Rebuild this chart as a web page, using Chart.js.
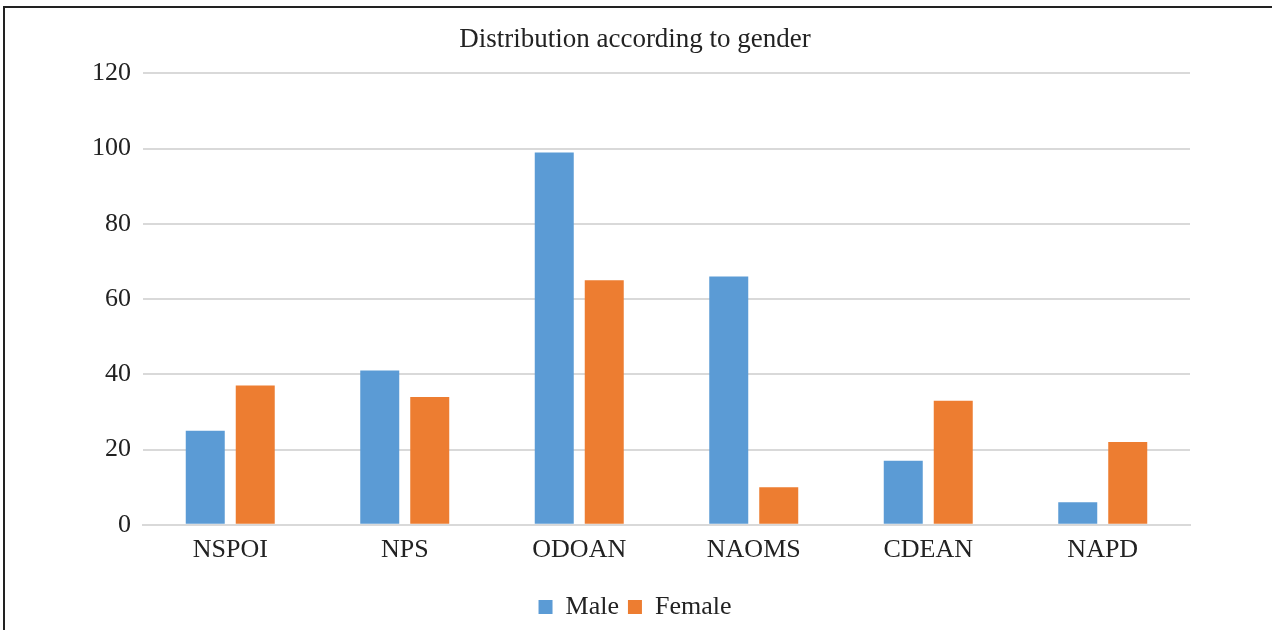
<!DOCTYPE html>
<html lang="en">
<head>
  <meta charset="UTF-8" />
  <title>Distribution according to gender</title>
  <script src="https://cdn.jsdelivr.net/npm/chart.js"></script>
  <style>
    html, body { margin: 0; padding: 0; background: #fff; }
    #wrap { width: 1272px; height: 630px; position: relative; }
  </style>
</head>
<body>
  <div id="wrap">
    <canvas id="genderChart" width="1272" height="630"></canvas>
  </div>

  <script>
    const categories = ['NSPOI', 'NPS', 'ODOAN', 'NAOMS', 'CDEAN', 'NAPD'];
    const maleValues = [25, 41, 99, 66, 17, 6];
    const femaleValues = [37, 34, 65, 10, 33, 22];

    // frame line along the top and left of the picture
    const framePlugin = {
      id: 'frame',
      afterDraw(chart) {
        const ctx = chart.ctx;
        ctx.save();
        ctx.strokeStyle = '#222';
        ctx.lineWidth = 2;
        ctx.beginPath();
        ctx.moveTo(4, chart.height);
        ctx.lineTo(4, 7);
        ctx.lineTo(chart.width, 7);
        ctx.stroke();
        ctx.restore();
      }
    };

    const serif = "'Liberation Serif', 'Times New Roman', serif";

    new Chart(document.getElementById('genderChart'), {
      type: 'bar',
      data: {
        labels: categories,
        datasets: [
          { label: 'Male', data: maleValues, backgroundColor: '#5B9BD5' },
          { label: 'Female', data: femaleValues, backgroundColor: '#ED7D31' }
        ]
      },
      plugins: [framePlugin],
      options: {
        responsive: false,
        animation: false,
        categoryPercentage: 0.573,
        barPercentage: 0.78,
        layout: { padding: { left: 80, right: 82, top: 0, bottom: 0 } },
        plugins: {
          title: {
            display: true,
            text: 'Distribution according to gender',
            color: '#222',
            font: { family: serif, size: 27, weight: 'normal' },
            padding: { top: 24, bottom: 17 }
          },
          legend: {
            display: true,
            position: 'bottom',
            labels: {
              color: '#222',
              font: { family: serif, size: 26 },
              boxWidth: 14,
              boxHeight: 14,
              padding: 9
            }
          },
          tooltip: { enabled: false }
        },
        scales: {
          x: {
            grid: { display: false, drawTicks: false },
            border: { display: true, color: '#d9d9d9', width: 2 },
            ticks: { color: '#222', font: { family: serif, size: 26 }, padding: 10 },
            afterFit(scale) { scale.height += 9; }
          },
          y: {
            min: 0,
            max: 120,
            ticks: { stepSize: 20, color: '#222', font: { family: serif, size: 26 }, padding: 12 },
            grid: { color: '#d9d9d9', lineWidth: 2, drawTicks: false },
            border: { display: false }
          }
        }
      }
    });
  </script>
</body>
</html>
